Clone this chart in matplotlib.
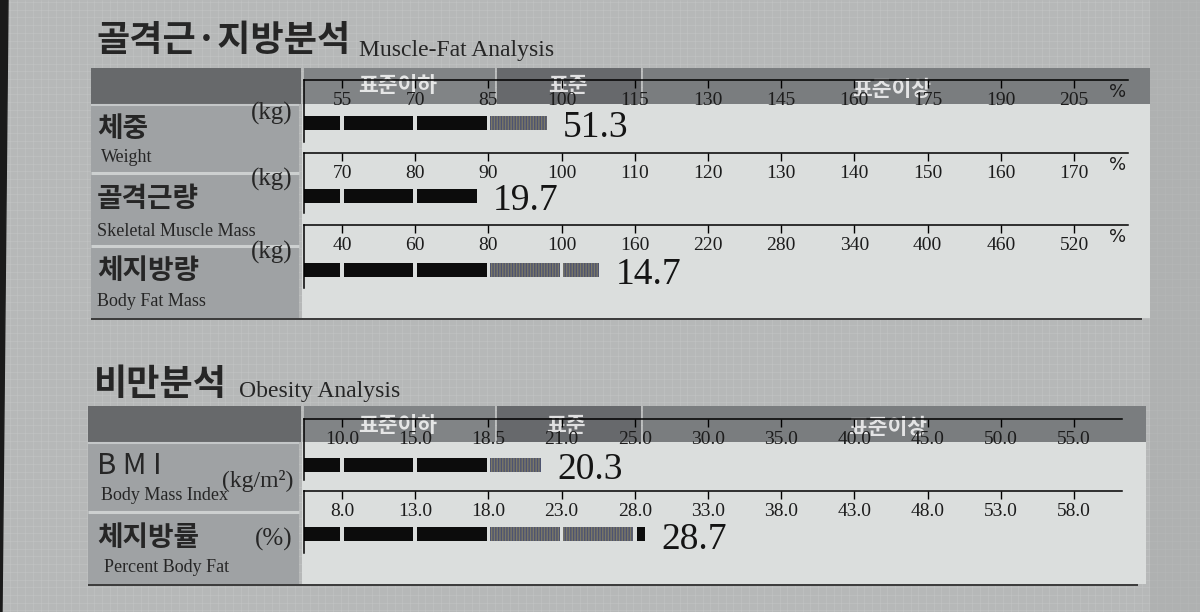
import numpy as np
import matplotlib
matplotlib.use("Agg")
import matplotlib.pyplot as plt
from matplotlib.patches import Rectangle, Polygon

# ------------------------------------------------------------------ data
weight_tick_vals = [55, 70, 85, 100, 115, 130, 145, 160, 175, 190, 205]
weight_pct = 97.0
weight_kg = 51.3

muscle_tick_vals = [70, 80, 90, 100, 110, 120, 130, 140, 150, 160, 170]
muscle_pct = 88.4
muscle_kg = 19.7

fat_tick_vals = [40, 60, 80, 100, 160, 220, 280, 340, 400, 460, 520]
fat_pct = 131.0
fat_kg = 14.7

bmi_tick_vals = [10.0, 15.0, 18.5, 21.0, 25.0, 30.0, 35.0, 40.0, 45.0, 50.0, 55.0]
bmi_value = 20.3

pbf_tick_vals = [8.0, 13.0, 18.0, 23.0, 28.0, 33.0, 38.0, 43.0, 48.0, 53.0, 58.0]
pbf_value = 28.7

band_labels = ["표준이하", "표준", "표준이상"]

# ------------------------------------------------------------------ style
CJK = "Noto Sans CJK KR"
SERIF = "Liberation Serif"
W, H = 1200, 612
PAPER = "#b6b8b8"
PANEL = "#9fa2a4"
HEAD_DARK = "#67696b"
BAND1 = "#818486"
BAND2 = "#67696c"
BAND3 = "#7a7d7f"
LIGHT = "#dbdedd"
TICK0_PX = 342.0      # pixel x of first tick
PPT = 73.2            # pixels per tick step

fig = plt.figure(figsize=(12, 6.12), dpi=100)
fig.patch.set_facecolor(PAPER)
bg = fig.add_axes([0, 0, 1, 1])
bg.set_xlim(0, W)
bg.set_ylim(H, 0)
bg.axis("off")

# paper texture grid
gx = np.arange(2, W, 7.7)
gy = np.arange(2, H, 7.7)
bg.vlines(gx, 0, H, color="#cfd1d1", lw=0.45, alpha=0.4, zorder=0.2)
bg.hlines(gy, 0, W, color="#cfd1d1", lw=0.45, alpha=0.4, zorder=0.2)
bg.add_patch(Rectangle((1150, 0), 50, H, color="#a9abab", alpha=0.5, zorder=0.3, lw=0))
bg.add_patch(Polygon([(0, 0), (8, 0), (2, H), (0, H)], closed=True, color="#1a1a1a", zorder=0.4))


def rect(x0, y0, x1, y1, color, z=1, **kw):
    bg.add_patch(Rectangle((x0, y0), x1 - x0, y1 - y0, facecolor=color,
                           edgecolor="none", zorder=z, **kw))


def section(bottom, xr, band_y0, band_y1, left_x, seps):
    # header
    rect(left_x, band_y0, 301, band_y1, HEAD_DARK)
    rect(304, band_y0, 495, band_y1, BAND1)
    rect(497, band_y0, 641, band_y1, BAND2)
    rect(643, band_y0, xr, band_y1, BAND3)
    # light chart area & label panel
    rect(302, band_y1, xr, bottom, LIGHT)
    rect(left_x, band_y1 + 1.5, 299, bottom, PANEL)
    bg.hlines(band_y1 + 0.8, left_x, 299, color="#c4c7c8", lw=1.5, zorder=1.5)
    for s in seps:
        bg.hlines(s, left_x, 299, color="#cdd0d0", lw=2.2, zorder=1.5)
    bg.hlines(bottom + 1, left_x, xr - 8, color="#3a3a3a", lw=1.4, zorder=1.6)


section(318, 1150, 68, 104, 91, [173, 246])
section(584, 1146, 406, 442, 88, [512])

# header band words
for (xc, yc), txt in zip([(398, 86), (568, 86), (892, 90)], band_labels):
    bg.text(xc, yc, txt, family=CJK, fontweight="bold", fontsize=15.5, color="white",
            alpha=0.8, ha="center", va="center", zorder=3)
for (xc, yc), txt in zip([(398, 425), (566, 425), (888, 428)], band_labels):
    bg.text(xc, yc, txt, family=CJK, fontweight="bold", fontsize=15.5, color="white",
            alpha=0.8, ha="center", va="center", zorder=3)

# titles
TXT = "#262626"
bg.text(96, 41, "골격근·지방분석", family=CJK, fontweight="bold", fontsize=26,
        color=TXT, ha="left", va="center", zorder=3)
bg.text(359, 56, "Muscle-Fat Analysis", family=SERIF, fontsize=17, color=TXT,
        ha="left", va="baseline", zorder=3)
bg.text(94, 384, "비만분석", family=CJK, fontweight="bold", fontsize=26,
        color=TXT, ha="left", va="center", zorder=3)
bg.text(239, 397, "Obesity Analysis", family=SERIF, fontsize=17, color=TXT,
        ha="left", va="baseline", zorder=3)


# panel labels
def kor(x, y, s, size=20):
    bg.text(x, y, s, family=CJK, fontweight="bold", fontsize=size, color=TXT,
            ha="left", va="center", zorder=3)


def eng(x, y, s):
    bg.text(x, y, s, family=SERIF, fontsize=13, color=TXT, ha="left",
            va="center", zorder=3)


def unit(x, y, s, size=18):
    bg.text(x, y, s, family=SERIF, fontsize=size, color=TXT, ha="right",
            va="center", zorder=3)


kor(97, 129, "체중"); eng(101, 157, "Weight"); unit(292, 113, "(kg)")
kor(97, 199, "골격근량"); eng(97, 231, "Skeletal Muscle Mass"); unit(292, 179, "(kg)")
kor(97, 271, "체지방량"); eng(97, 301, "Body Fat Mass"); unit(292, 252, "(kg)")
bg.text(97, 466, "B M I", family=CJK, fontsize=21, color=TXT, ha="left",
        va="center", zorder=3)
eng(101, 495, "Body Mass Index"); unit(293, 481, "(kg/m²)", 17)
kor(97, 538, "체지방률"); eng(104, 567, "Percent Body Fat"); unit(292, 539, "(%)")


# ------------------------------------------------------------------ rows
def row(tick_vals, fmt, value, label, y_axis, y_bottom, bar_yc, x_end, pct=True):
    x0 = 304
    ax = fig.add_axes([x0 / W, 1 - y_bottom / H, (x_end - x0) / W,
                       (y_bottom - y_axis) / H], zorder=5)
    ax.patch.set_visible(False)
    xmin = (x0 - TICK0_PX) / PPT
    xmax = (x_end - TICK0_PX) / PPT
    ax.set_xlim(xmin, xmax)
    ax.set_ylim(y_bottom, y_axis)
    for sp in ("right", "bottom"):
        ax.spines[sp].set_visible(False)
    ax.spines["top"].set_linewidth(1.1)
    ax.spines["left"].set_linewidth(1.1)
    idx = np.arange(len(tick_vals))
    ax.set_xticks(idx)
    ax.set_xticklabels([fmt.format(v) for v in tick_vals], family=SERIF,
                       fontsize=14, color="#1c1c1c")
    ax.tick_params(axis="x", top=True, bottom=False, labeltop=True,
                   labelbottom=False, direction="in", length=5.5, width=1,
                   pad=-21)
    ax.set_yticks([])
    vidx = float(np.interp(value, tick_vals, idx))
    bounds = [xmin] + list(idx)
    gap = 1.8 / PPT
    for i in range(len(bounds)):
        if bounds[i] >= vidx:
            break
        s = bounds[i] + (gap if i > 0 else 0)
        e = vidx if i == len(bounds) - 1 else min(bounds[i + 1] - gap, vidx)
        if e <= s:
            continue
        if 2 <= bounds[i] < 4:
            ax.barh(bar_yc, e - s, left=s, height=14, color="#7b7866",
                    edgecolor="#4d5371", hatch="||||||", linewidth=0)
        else:
            ax.barh(bar_yc, e - s, left=s, height=14, color="#0c0c0c",
                    linewidth=0)
    ax.annotate(label, xy=(vidx, bar_yc), xytext=(11.5, -3.5),
                textcoords="offset points", ha="left", va="center",
                family=SERIF, fontsize=27, color="#141414")
    if pct:
        ax.text(xmax - 0.02, y_axis + 12, "%", family="DejaVu Sans",
                fontsize=13, color="#1c1c1c", ha="right", va="center")
    return ax


plt.rcParams["hatch.linewidth"] = 1.0
row(weight_tick_vals, "{:d}", weight_pct, f"{weight_kg}", 80, 142, 123, 1128)
row(muscle_tick_vals, "{:d}", muscle_pct, f"{muscle_kg}", 153, 213, 195.5, 1128)
row(fat_tick_vals, "{:d}", fat_pct, f"{fat_kg}", 225, 288, 270, 1128)
row(bmi_tick_vals, "{:.1f}", bmi_value, f"{bmi_value}", 419, 480, 464.5, 1122, pct=False)
row(pbf_tick_vals, "{:.1f}", pbf_value, f"{pbf_value}", 491, 553, 534.5, 1122, pct=False)

fig.savefig("out.png", dpi=100, facecolor=fig.get_facecolor())
